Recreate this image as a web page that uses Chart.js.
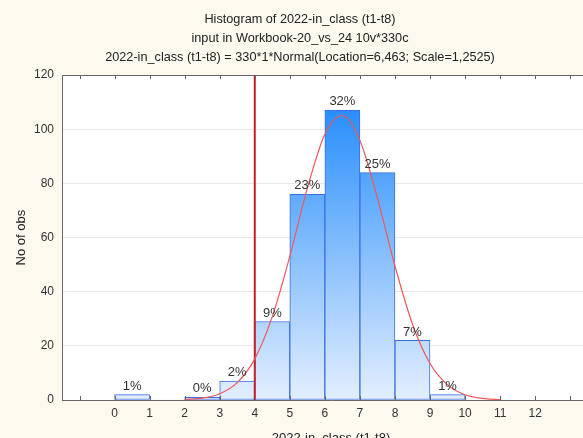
<!DOCTYPE html>
<html>
<head>
<meta charset="utf-8">
<script src="https://cdn.jsdelivr.net/npm/chart.js@4.4.1/dist/chart.umd.min.js"></script>
<style>
  html, body { margin: 0; padding: 0; overflow: hidden; background: #fdf9ee; }
  #wrap { width: 600px; height: 450px; }
</style>
</head>
<body>
<div id="wrap"><canvas id="histChart"></canvas></div>
<script>
// HISTOGRAM DATA
const binCenters = [0.5, 1.5, 2.5, 3.5, 4.5, 5.5, 6.5, 7.5, 8.5, 9.5];
const binCounts = [2, 0, 1, 7, 29, 76, 107, 84, 22, 2];
const binPercents = ['1%', '', '0%', '2%', '9%', '23%', '32%', '25%', '7%', '1%'];

// fitted normal curve
const curveX = [2, 2.5, 3, 3.5, 4, 4.5, 5, 5.5, 6, 6.5, 7, 7.5, 8, 8.5, 9, 9.5, 10, 10.5, 11];
const curveY = [0.18, 0.7, 2.3, 6.4, 15.2, 30.8, 53.1, 78.2, 98.2, 105.1, 95.9, 74.6, 49.5, 28.0, 13.5, 5.6, 1.95, 0.58, 0.15];

const cutLine = 4;
const xTicks = [-1, 0, 1, 2, 3, 4, 5, 6, 7, 8, 9, 10, 11, 12, 13];
const xTickLabels = [0, 1, 2, 3, 4, 5, 6, 7, 8, 9, 10, 11, 12];
const yTicks = [0, 20, 40, 60, 80, 100, 120];

const titleLines = [
    'Histogram of 2022-in_class (t1-t8)',
    'input in Workbook-20_vs_24 10v*330c',
    '2022-in_class (t1-t8) = 330*1*Normal(Location=6,463; Scale=1,2525)'
];

const FONT = "'Liberation Sans', Arial, sans-serif";

// white plot area
const plotBg = {
    id: 'plotBg',
    beforeDraw(chart) {
        const a = chart.chartArea;
        const ctx = chart.ctx;
        ctx.save();
        ctx.fillStyle = '#ffffff';
        ctx.fillRect(a.left, a.top, a.right - a.left, a.bottom - a.top);
        ctx.restore();
    }
};

// small inside tick marks on top and bottom
const insideTicks = {
    id: 'insideTicks',
    afterDraw(chart) {
        const a = chart.chartArea;
        const x = chart.scales.x;
        const ctx = chart.ctx;
        ctx.save();
        ctx.strokeStyle = '#666';
        ctx.lineWidth = 1;
        xTicks.forEach(v => {
            const px = Math.round(x.getPixelForValue(v)) + 0.5;
            ctx.beginPath();
            ctx.moveTo(px, a.bottom);
            ctx.lineTo(px, a.bottom - 4);
            ctx.moveTo(px, a.top);
            ctx.lineTo(px, a.top + 4);
            ctx.stroke();
        });
        ctx.restore();
    }
};

// percent labels on top of bars
const barLabels = {
    id: 'barLabels',
    afterDatasetsDraw(chart) {
        const meta = chart.getDatasetMeta(0);
        const ctx = chart.ctx;
        ctx.save();
        ctx.font = '13px ' + FONT;
        ctx.fillStyle = '#333';
        ctx.textAlign = 'center';
        ctx.textBaseline = 'bottom';
        meta.data.forEach((bar, i) => {
            if (!binPercents[i]) return;
            ctx.fillText(binPercents[i], bar.x, bar.y - 2);
        });
        ctx.restore();
    }
};

function barGradient(context) {
    const chart = context.chart;
    const a = chart.chartArea;
    if (!a) return '#8ec0fa';
    const g = chart.ctx.createLinearGradient(0, a.bottom, 0, a.top);
    g.addColorStop(0, '#e4effe');
    g.addColorStop(1, '#1383fb');
    return g;
}

const ctx = document.getElementById('histChart').getContext('2d');

const histChart = new Chart(ctx, {
    type: 'bar',
    data: {
        datasets: [
            {
                type: 'bar',
                data: binCenters.map((c, i) => ({ x: c, y: binCounts[i] })),
                backgroundColor: barGradient,
                borderColor: '#3b6fe3',
                borderWidth: (c) => (c.raw && c.raw.y > 0 ? 1 : 0),
                borderSkipped: false,
                barPercentage: 1,
                categoryPercentage: 1,
                order: 2
            },
            {
                type: 'line',
                data: [{ x: cutLine, y: 0 }, { x: cutLine, y: 120 }],
                borderColor: '#c42226',
                borderWidth: 2,
                pointRadius: 0,
                order: 1
            },
            {
                type: 'line',
                data: curveX.map((x, i) => ({ x: x, y: curveY[i] })),
                borderColor: '#f2575a',
                borderWidth: 1.2,
                pointRadius: 0,
                cubicInterpolationMode: 'monotone',
                order: 0
            }
        ]
    },
    options: {
        responsive: true,
        maintainAspectRatio: false,
        animation: false,
        layout: { padding: 0 },
        plugins: {
            legend: { display: false },
            tooltip: { enabled: false },
            title: {
                display: true,
                text: titleLines,
                color: '#222',
                font: { family: FONT, size: 12.7, weight: 'normal', lineHeight: 1.5 },
                padding: { top: 10, bottom: 8 }
            }
        },
        scales: {
            x: {
                type: 'linear',
                position: 'bottom',
                min: -1.5,
                max: 13.85,
                offset: false,
                afterBuildTicks: (s) => { s.ticks = xTicks.map(v => ({ value: v })); },
                afterFit: (s) => { s.height = 50; },
                ticks: {
                    color: '#333',
                    font: { family: FONT, size: 12 },
                    padding: 6,
                    maxRotation: 0,
                    autoSkip: false,
                    callback: (v) => (xTickLabels.includes(v) ? String(v) : '')
                },
                grid: { display: false, drawTicks: false },
                border: { display: true, color: '#666', width: 1 },
                title: {
                    display: true,
                    text: '2022-in_class (t1-t8)',
                    color: '#222',
                    font: { family: FONT, size: 13 },
                    padding: { top: 0, bottom: 4 }
                }
            },
            xTop: {
                type: 'linear',
                position: 'top',
                min: -1.5,
                max: 13.85,
                afterFit: (s) => { s.height = 0; },
                ticks: { display: false },
                grid: { display: false, drawTicks: false },
                border: { display: true, color: '#666', width: 1 }
            },
            y: {
                min: 0,
                max: 120,
                afterBuildTicks: (s) => { s.ticks = yTicks.map(v => ({ value: v })); },
                afterFit: (s) => { s.width = 62; },
                ticks: {
                    color: '#333',
                    font: { family: FONT, size: 12 },
                    padding: 8
                },
                grid: { color: '#e8e8e8', drawTicks: false },
                border: { display: true, color: '#666', width: 1 },
                title: {
                    display: true,
                    text: 'No of obs',
                    color: '#222',
                    font: { family: FONT, size: 13 },
                    padding: { top: 14, bottom: 0 }
                }
            }
        }
    },
    plugins: [plotBg, insideTicks, barLabels]
});
</script>
</body>
</html>
